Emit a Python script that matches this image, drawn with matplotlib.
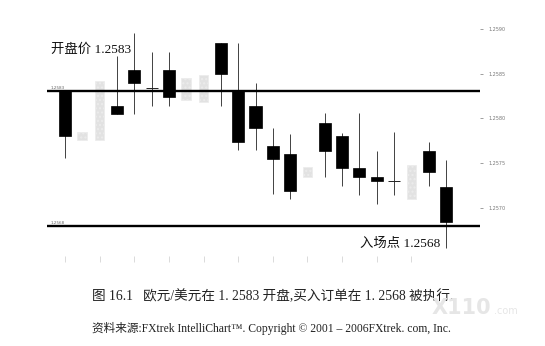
import matplotlib
matplotlib.use("Agg")
import matplotlib.pyplot as plt
import numpy as np

# EUR/USD bars (one per period); faded bars are drawn in light grey
opens  = [1.25830, 1.25785, 1.25842, 1.25814, 1.25840, 1.25834, 1.25854, 1.25845,
          1.25848, 1.25884, 1.25830, 1.25814, 1.25769, 1.25760, 1.25746, 1.25795,
          1.25780, 1.25745, 1.25735, 1.25730, 1.25748, 1.25764, 1.25724]
highs  = [1.25830, 1.25785, 1.25842, 1.25870, 1.25895, 1.25874, 1.25874, 1.25845,
          1.25848, 1.25884, 1.25884, 1.25840, 1.25789, 1.25783, 1.25746, 1.25806,
          1.25784, 1.25806, 1.25764, 1.25785, 1.25748, 1.25774, 1.25754]
lows   = [1.25756, 1.25776, 1.25776, 1.25805, 1.25805, 1.25814, 1.25814, 1.25820,
          1.25818, 1.25814, 1.25765, 1.25765, 1.25716, 1.25710, 1.25735, 1.25735,
          1.25725, 1.25715, 1.25705, 1.25715, 1.25710, 1.25725, 1.25655]
closes = [1.25780, 1.25776, 1.25776, 1.25805, 1.25854, 1.25834, 1.25824, 1.25820,
          1.25818, 1.25850, 1.25774, 1.25789, 1.25755, 1.25719, 1.25735, 1.25764,
          1.25745, 1.25735, 1.25730, 1.25730, 1.25710, 1.25740, 1.25685]
faded  = [False, True, True, False, False, False, False, True,
          True, False, False, False, False, False, True, False,
          False, False, False, False, True, False, False]

open_price = 1.2583
entry_price = 1.2568
price_ticks = [1.2570, 1.2575, 1.2580, 1.2585, 1.2590]
price_labels = ["1.2570", "1.2575", "1.2580", "1.2585", "1.2590"]

open_label = "开盘价 1.2583"
entry_label = "入场点 1.2568"
caption = "图 16.1   欧元/美元在 1. 2583 开盘,买入订单在 1. 2568 被执行."
source = "资料来源:FXtrek IntelliChart™. Copyright © 2001 – 2006FXtrek. com, Inc."

serif_cjk = ["Liberation Serif", "Noto Sans CJK SC", "DejaVu Sans"]

fig = plt.figure(figsize=(5.45, 3.46), dpi=100)
ax = fig.add_axes([0.0862, 0.2431, 0.7945, 0.7258])
ax.set_xlim(-1.04, 23.96)
ax.set_ylim(1.2564, 1.2592)

x = np.arange(len(opens))
o = np.array(opens); h = np.array(highs); l = np.array(lows); c = np.array(closes)
fd = np.array(faded)
solid = ~fd
width = 0.7

# wicks
ax.vlines(x[solid], l[solid], h[solid], color="#222222", linewidth=0.6, zorder=2)

# bodies
bottoms = np.minimum(o, c)
heights = np.abs(c - o)
body = solid & (heights > 0)
ax.bar(x[body], heights[body], bottom=bottoms[body], width=width,
       color="black", edgecolor="black", linewidth=0.5, zorder=3)
doji = solid & (heights == 0)
ax.hlines(o[doji], x[doji] - width / 2, x[doji] + width / 2,
          color="#222222", linewidth=0.7, zorder=3)

# faded bars
ax.bar(x[fd], np.maximum(heights[fd], 0.00004), bottom=bottoms[fd], width=width * 0.8,
       color="#e2e2e2", edgecolor="#ececec", linewidth=0.5, hatch="....", zorder=1)

# opening and entry levels
for lvl in (open_price, entry_price):
    ax.axhline(lvl, color="black", linewidth=1.7, zorder=4)
ax.text(-0.85, open_price + 0.000015, "1.2583", fontsize=3, color="#666666",
        va="bottom", ha="left")
ax.text(-0.85, entry_price + 0.000015, "1.2568", fontsize=3, color="#666666",
        va="bottom", ha="left")

# right price scale
ax.yaxis.tick_right()
ax.set_yticks(price_ticks)
ax.set_yticklabels(price_labels)
ax.tick_params(axis="y", length=2, width=0.5, colors="#777777", labelsize=3.5, pad=4)

# bottom time marks
ax.set_xticks(x[::2][:11])
ax.set_xticklabels([])
ax.tick_params(axis="x", direction="in", length=4, width=0.5, colors="#cccccc")

for s in ax.spines.values():
    s.set_visible(False)

# annotations
ax.text(-0.8, 1.25877, open_label, fontsize=9.6, family=serif_cjk,
        color="#111111", va="center", ha="left")
ax.text(17.05, 1.25660, entry_label, fontsize=9.6, family=serif_cjk,
        color="#111111", va="center", ha="left")

# caption and source
fig.text(92 / 545, 1 - 296 / 346, caption, fontsize=9.8, family=serif_cjk,
         color="#222222", va="center", ha="left")
fig.text(92 / 545, 1 - 328 / 346, source, fontsize=8.4, family=serif_cjk,
         color="#222222", va="center", ha="left")

# site mark
fig.text(432 / 545, 1 - 308 / 346, "X110", fontsize=15, fontweight="bold",
         color="#e6e6e6", va="center", ha="left", family="DejaVu Sans")
fig.text(494 / 545, 1 - 311 / 346, ".com", fontsize=7,
         color="#e6e6e6", va="center", ha="left", family="DejaVu Sans")

fig.savefig("out.png", dpi=100)
